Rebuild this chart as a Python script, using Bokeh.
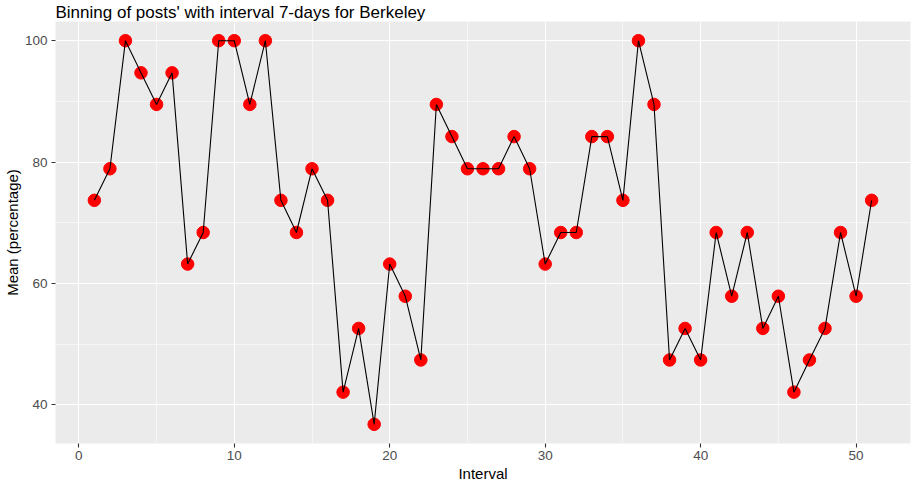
from bokeh.plotting import figure
from bokeh.models import Range1d, SingleIntervalTicker, Title, ColumnDataSource
from bokeh.embed import file_html
from bokeh.resources import INLINE

# ---- data ----
interval = list(range(1, 52))
mean_pct = [73.7, 78.9, 100, 94.7, 89.5, 94.7, 63.2, 68.4, 100, 100,
            89.5, 100, 73.7, 68.4, 78.9, 73.7, 42.1, 52.6, 36.8, 63.2,
            57.9, 47.4, 89.5, 84.2, 78.9, 78.9, 78.9, 84.2, 78.9, 63.2,
            68.4, 68.4, 84.2, 84.2, 73.7, 100, 89.5, 47.4, 52.6, 47.4,
            68.4, 57.9, 68.4, 52.6, 57.9, 42.1, 47.4, 52.6, 68.4, 57.9,
            73.7]
title_text = "Binning of posts' with interval 7-days for Berkeley"
x_title = "Interval"
y_title = "Mean (percentage)"

# ---- layout ----
W, H = 921, 481
FONT = "Liberation Sans"

xmin, xmax = min(interval), max(interval)
ymin, ymax = min(mean_pct), max(mean_pct)
xpad = (xmax - xmin) * 0.05
ypad = (ymax - ymin) * 0.05

p = figure(width=W, height=H, output_backend="svg", toolbar_location=None,
           x_range=Range1d(xmin - xpad, xmax + xpad),
           y_range=Range1d(ymin - ypad, ymax + ypad),
           min_border_left=54, min_border_right=11,
           min_border_top=18, min_border_bottom=34)
p.background_fill_color = "#EBEBEB"
p.border_fill_color = "white"
p.outline_line_color = None

# main title (left aligned, ggplot style)
p.title.text = title_text
p.title.text_font = FONT
p.title.text_font_size = "17px"
p.title.text_font_style = "normal"
p.title.text_color = "black"
p.title.align = "left"
p.title.standoff = 0
p.title.offset = 0

p.add_layout(Title(text=y_title, align="center", text_font=FONT, text_font_size="15px",
                   text_font_style="normal", text_color="black", standoff=2), "left")
p.add_layout(Title(text=x_title, align="center", text_font=FONT, text_font_size="15px",
                   text_font_style="normal", text_color="black", standoff=0), "below")

p.xaxis.ticker = SingleIntervalTicker(interval=10, num_minor_ticks=2)
p.yaxis.ticker = SingleIntervalTicker(interval=20, num_minor_ticks=2)
for ax in (p.xaxis, p.yaxis):
    ax.axis_line_color = None
    ax.major_tick_line_color = "#333333"
    ax.major_tick_line_width = 1.1
    ax.major_tick_out = 4
    ax.major_tick_in = 0
    ax.minor_tick_line_color = None
    ax.major_label_text_color = "#4D4D4D"
    ax.major_label_text_font = FONT
    ax.major_label_text_font_size = "13.5px"
    ax.major_label_standoff = 4
p.xaxis.major_label_standoff = 3

for g in (p.xgrid, p.ygrid):
    g.grid_line_color = "white"
    g.grid_line_width = 1.1
    g.minor_grid_line_color = "white"
    g.minor_grid_line_width = 0.55

src = ColumnDataSource(dict(x=interval, y=mean_pct))
p.scatter("x", "y", source=src, size=12.5, fill_color="#FF0000", line_color="#FF0000")
p.line("x", "y", source=src, line_color="black", line_width=1.1)

open("out.html", "w").write(file_html(p, INLINE))
